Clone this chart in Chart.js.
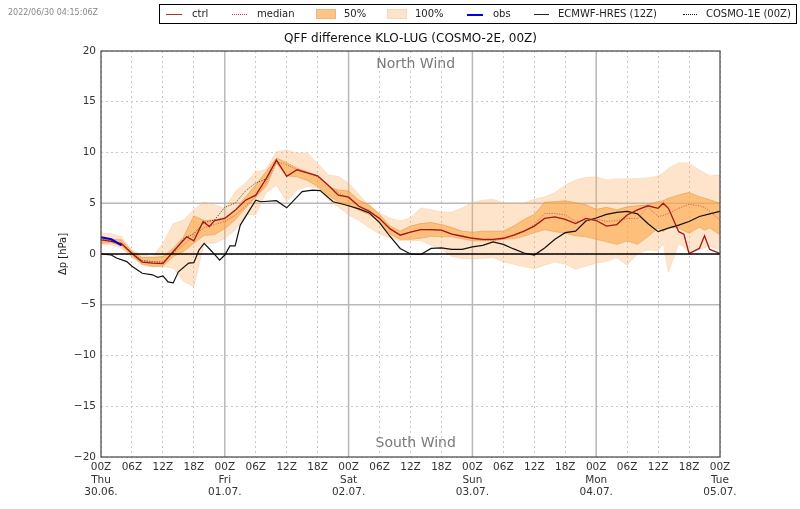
<!DOCTYPE html>
<html>
<head>
<meta charset="utf-8">
<script src="https://cdn.jsdelivr.net/npm/chart.js@4"></script>
<style>
  html, body { margin: 0; padding: 0; background: #fff; font-family: "DejaVu Sans", sans-serif; }
  #wrap { position: relative; width: 800px; height: 509px; overflow: hidden; }
  #stamp { position: absolute; left: 8px; top: 8px; font-size: 8px; color: #888; }
  #legend { position: absolute; left: 159px; top: 4px; width: 636px; height: 18px; border: 1px solid #000; font-size: 10px; color: #222; }
  #legend span { position: absolute; top: 3px; white-space: nowrap; line-height: 12px; }
  #legend i { position: absolute; display: block; }
  #legend i.line { top: 9px; height: 0; }
  #legend i.box { top: 4px; height: 10px; width: 20px; }
</style>
</head>
<body>
<div id="wrap">
  <canvas id="chart" width="800" height="509"></canvas>
  <div id="stamp">2022/06/30 04:15:06Z</div>
  <div id="legend">
    <i class="line" style="left:6px;width:16px;border-top:1px solid #a83232"></i><span style="left:32px">ctrl</span>
    <i class="line" style="left:72px;width:15px;border-top:1px dotted #b04040"></i><span style="left:97px">median</span>
    <i class="box" style="left:156px;background:#fdc488;border:1px solid #e8b880;box-sizing:border-box"></i><span style="left:184px">50%</span>
    <i class="box" style="left:227px;background:#fde3c8;border:1px solid #f2d8bc;box-sizing:border-box"></i><span style="left:255px">100%</span>
    <i class="line" style="left:307px;width:16px;border-top:2px solid #0000e0"></i><span style="left:333px">obs</span>
    <i class="line" style="left:374px;width:15px;border-top:1px solid #222"></i><span style="left:398px">ECMWF-HRES (12Z)</span>
    <i class="line" style="left:523px;width:14px;border-top:1px dotted #222"></i><span style="left:546px">COSMO-1E (00Z)</span>
  </div>
</div>
<script>
const hours = [0,2,4,6,8,10,12,14,16,18, 20,22,24,26,28,30,32,34,36,38, 40,42,44,46,48,50,52,54,56,58,
  60,62,64,66,68,70,72,74,76,78, 80,82,84,86,88,90,92,94,96,98, 100,102,104,106,108,109,110,112,113,114, 116,117,118,120];

const ctrlHours = [0,2,4,6,8,10,12,14,16.6,18, 19.8,21,22,24,26,28,30,32,34,36,38,
  40,42,44,46,48,50,52,54,56,58, 60,62,64,66,68,70,72,74,76,78,
  80,82,84,86,88,90,92,94,96,98, 100,102,104,106,108,109,110,112,113,114, 116,117,118,120];
const ctrl = [1.4,1.25,1.0,.05,-.8,-.9,-.95,.25,1.7,1.3, 3.2,2.7,3.3,3.5,4.3,5.3,5.8,7.4,9.25,7.65,8.3,
  8.0,7.7,6.8,5.8,5.6,4.7,4.2,3.5,2.5,1.85, 2.15,2.4,2.4,2.35,1.95,1.75,1.55,1.45,1.45,1.55,
  1.85,2.25,2.75,3.5,3.65,3.4,3.0,3.5,3.3,2.75, 2.9,3.85,4.35,4.75,4.5,5.0,4.5,2.2,1.95,.05, .55,1.8,.45,.05];
const median = [1.5,1.3,1.05,.1,-.65,-.8,-.85,.1,.9,1.8, 2.6,2.9,3.2,3.8,4.7,5.6,7.0,9.1,8.8,8.3,
  8.0,7.6,6.8,6.0,5.6,4.7,4.3,3.5,2.5,1.95, 2.15,2.4,2.35,2.3,2.0,1.8,1.55,1.35,1.35,1.5,
  1.8,2.2,2.9,4.0,4.0,3.85,3.2,3.3,3.45,3.2, 3.3,3.5,3.5,4.6,3.7,3.8,4.0,4.5,4.7,4.9, 4.75,4.6,4.2,3.35];
const p75 = [1.6,1.45,1.4,.25,-.35,-.35,-.25,.55,1.7,3.75, 3.3,3.35,3.6,4.35,5.6,6.8,8.1,9.45,9.0,8.45,
  8.1,7.7,6.65,6.3,6.2,5.3,4.85,3.9,2.75,2.25, 2.75,3.0,3.1,2.9,2.6,2.25,2.15,2.25,2.25,2.25,
  2.75,3.4,3.9,5.1,5.15,5.25,5.05,4.85,4.4,4.6, 4.35,4.65,4.75,4.85,5.15,5.25,5.5,5.8,5.95,6.05, 5.65,5.5,5.35,5.0];
const p25 = [1.05,1.1,.8,-.2,-1,-1.2,-1.2,-.25,.25,1.05, 1.85,1.9,2.5,3.35,4.5,5.65,6.65,8.95,7.7,7.6,
  7.25,6.65,5.8,5.15,4.85,4.3,3.9,3.1,1.95,1.45, 1.45,1.55,1.75,1.7,1.7,1.5,1.3,1.3,1.3,1.45,
  1.5,1.75,2.1,2.4,2.2,2.05,1.8,1.7,1.45,1.2, .95,1.3,.95,1.7,2.55,2.2,2.7,2.55,2.3,2.05, 2.65,2.35,2.55,1.9];
const maxEns = [2.05,2.0,1.7,.4,-.1,-.25,1.05,3.0,3.35,4.4, 5.15,4.85,4.5,6.15,7,8.1,8.35,10.1,10.25,9.95,
  9.95,8.95,7.8,7.65,7,5.9,4.7,4.05,3.55,3.25, 3.55,4.55,4.35,4.15,4.15,4.55,5.1,5.3,5.4,5.05,
  5,5.05,5.4,5.65,6.05,6.8,7.3,7.55,7.6,7.3, 7.4,7.45,7.45,7.5,7.7,8.0,8.45,9,9,8.95, 8.3,8.0,7.7,7.8];
const minEns = [.9,.9,.55,-.35,-1.1,-1.3,-1.25,-1.4,-2.7,-3.2, 1.05,1.05,1.55,2.35,3.85,3.85,6,6.8,5.15,6.3,
  6.65,6.5,5.35,4.65,3.85,3.3,2.6,1.95,1.6,1.3, 1.3,1.3,.85,.45,-.25,-.45,-.5,-.45,-.35,-.8,
  -1,-1.25,-1.45,-1.1,-.8,-1,-1.5,-1.2,-.9,-.75, -.35,-1.1,0,.4,.3,1.0,-1.8,1.0,.7,.1, .5,.6,.8,.4];
const hresHours = [0,2,3,5,6,8,10,11,12,13,14,15,17,18,19,20,21.5,23,24,25,26,27,30,31,34,36,39,41,42.5,45,47.3,
  50,52,54,56,58,60,62,64,66,68,70,72,74,76,78,80,82,84,86,88,90,92,94,96,98,
  100,102,104,106,108,110,112,114,116,118,120];
const hres = [0,-.1,-.4,-.75,-1.2,-1.9,-2.05,-2.3,-2.15,-2.75,-2.85,-1.75,-.9,-.85,.4,1.05,.25,-.6,-.1,.8,.8,2.85,5.3,5.15,5.25,4.55,6.15,6.3,6.25,5.15,4.85,
  4.45,4.05,3.1,1.75,.55,0,-.05,.55,.6,.45,.45,.7,.85,1.2,.95,.5,.1,-.1,.6,1.45,2.1,2.25,3.25,3.55,3.9,
  4.1,4.2,3.95,3,2.2,2.55,2.85,3.2,3.7,3.95,4.2];
const cosmo1 = [1.45,1.3,1.05,.1,-.65,-.75,-.8,.1,1.5,2.0, 3.1,3.35,4.6,5.0,6.2,7.0,7.4,9.2];
const obs = [1.65,1.45,.85];

const yTicks = [-20,-15,-10,-5,0,5,10,15,20];
const dayNames = ['Thu','Fri','Sat','Sun','Mon','Tue'];
const dayDates = ['30.06.','01.07.','02.07.','03.07.','04.07.','05.07.'];
const hourLabels = ['00Z','06Z','12Z','18Z'];

const xy = (vals, xs = hours) => vals.map((v, i) => ({ x: xs[i], y: v }));
const mono = 'DejaVu Sans';

// solid reference lines, frame, title and the wind labels
const decor = {
  id: 'decor',
  beforeDatasetsDraw(chart) {
    const { ctx, chartArea: a, scales: { x, y } } = chart;
    ctx.save();
    ctx.strokeStyle = '#b8b8b8';
    ctx.lineWidth = 1.5;
    ctx.beginPath();
    [-5, 5].forEach(v => { ctx.moveTo(a.left, y.getPixelForValue(v)); ctx.lineTo(a.right, y.getPixelForValue(v)); });
    [24, 48, 72, 96].forEach(h => { ctx.moveTo(x.getPixelForValue(h), a.top); ctx.lineTo(x.getPixelForValue(h), a.bottom); });
    ctx.stroke();
    ctx.restore();
  },
  afterDatasetsDraw(chart) {
    const { ctx, chartArea: a, scales: { x, y } } = chart;
    ctx.save();
    ctx.strokeStyle = '#000';
    ctx.lineWidth = 1.5;
    ctx.beginPath();
    ctx.moveTo(a.left, y.getPixelForValue(0));
    ctx.lineTo(a.right, y.getPixelForValue(0));
    ctx.stroke();
    ctx.strokeStyle = '#444';
    ctx.lineWidth = 1.2;
    ctx.strokeRect(a.left, a.top, a.right - a.left, a.bottom - a.top);
    ctx.fillStyle = '#7a7a7a';
    ctx.font = '14px "' + mono + '"';
    ctx.textAlign = 'center';
    ctx.textBaseline = 'middle';
    ctx.fillText('North Wind', x.getPixelForValue(61), y.getPixelForValue(18.7));
    ctx.fillText('South Wind', x.getPixelForValue(61), y.getPixelForValue(-18.7));
    ctx.fillStyle = '#111';
    ctx.font = '12px "' + mono + '"';
    ctx.fillText('QFF difference KLO-LUG (COSMO-2E, 00Z)', (a.left + a.right) / 2, 39);
    ctx.restore();
  }
};

new Chart(document.getElementById('chart').getContext('2d'), {
  type: 'line',
  data: {
    datasets: [
      { label: '100%', data: xy(maxEns), fill: '+1', backgroundColor: 'rgba(253,170,90,0.32)', borderColor: 'rgba(240,190,140,0.5)', borderWidth: 0.6, order: 9 },
      { label: '100% low', data: xy(minEns), fill: false, borderColor: 'rgba(240,190,140,0.5)', borderWidth: 0.6, order: 9 },
      { label: '50%', data: xy(p75), fill: '+1', backgroundColor: 'rgba(253,165,70,0.6)', borderColor: 'rgba(215,140,70,0.7)', borderWidth: 0.7, order: 8 },
      { label: '50% low', data: xy(p25), fill: false, borderColor: 'rgba(215,140,70,0.7)', borderWidth: 0.7, order: 8 },
      { label: 'ECMWF-HRES (12Z)', data: xy(hres, hresHours), borderColor: '#111', borderWidth: 1.2, order: 5 },
      { label: 'COSMO-1E (00Z)', data: xy(cosmo1), borderColor: '#222', borderWidth: 0.9, borderDash: [1, 1.5], order: 4 },
      { label: 'median', data: xy(median), borderColor: '#c05050', borderWidth: 0.9, borderDash: [1, 1.5], order: 3 },
      { label: 'ctrl', data: xy(ctrl, ctrlHours), borderColor: '#a01818', borderWidth: 1.3, order: 2 },
      { label: 'obs', data: xy(obs), borderColor: '#0000e0', borderWidth: 2.2, order: 1 },
    ],
  },
  options: {
    responsive: false,
    animation: false,
    events: [],
    layout: { padding: { left: 50, right: 80, top: 51, bottom: 0 } },
    elements: { point: { radius: 0 }, line: { tension: 0 } },
    plugins: {
      legend: { display: false },
      tooltip: { enabled: false },
      title: { display: false },
    },
    scales: {
      x: {
        type: 'linear',
        min: 0,
        max: 120,
        afterFit(scale) { scale.height = 52; },
        afterBuildTicks(scale) {
          const ticks = [];
          for (let h = 0; h <= 120; h += 6) ticks.push({ value: h });
          scale.ticks = ticks;
        },
        ticks: {
          color: '#333',
          font: { family: mono, size: 10.5 },
          padding: 4,
          maxRotation: 0,
          autoSkip: false,
          callback(v) {
            const lab = hourLabels[(v / 6) % 4];
            if (v % 24) return lab;
            return [lab, dayNames[v / 24], dayDates[v / 24]];
          },
        },
        grid: { color: '#c8c8c8', drawTicks: false, lineWidth: 1 },
        border: { display: false, dash: [2, 3] },
      },
      y: {
        min: -20,
        max: 20,
        afterFit(scale) { scale.width = 51; },
        afterBuildTicks(scale) { scale.ticks = yTicks.map(v => ({ value: v })); },
        title: { display: true, text: 'Δp [hPa]', color: '#222', font: { family: mono, size: 10 }, padding: { top: 7, bottom: 0 } },
        ticks: {
          color: '#333',
          font: { family: mono, size: 10.5 },
          padding: 5,
          callback: v => String(v).replace('-', '\u2212'),
        },
        grid: { color: '#c8c8c8', drawTicks: false, lineWidth: 1 },
        border: { display: false, dash: [2, 3] },
      },
    },
  },
  plugins: [decor],
});
</script>
</body>
</html>
